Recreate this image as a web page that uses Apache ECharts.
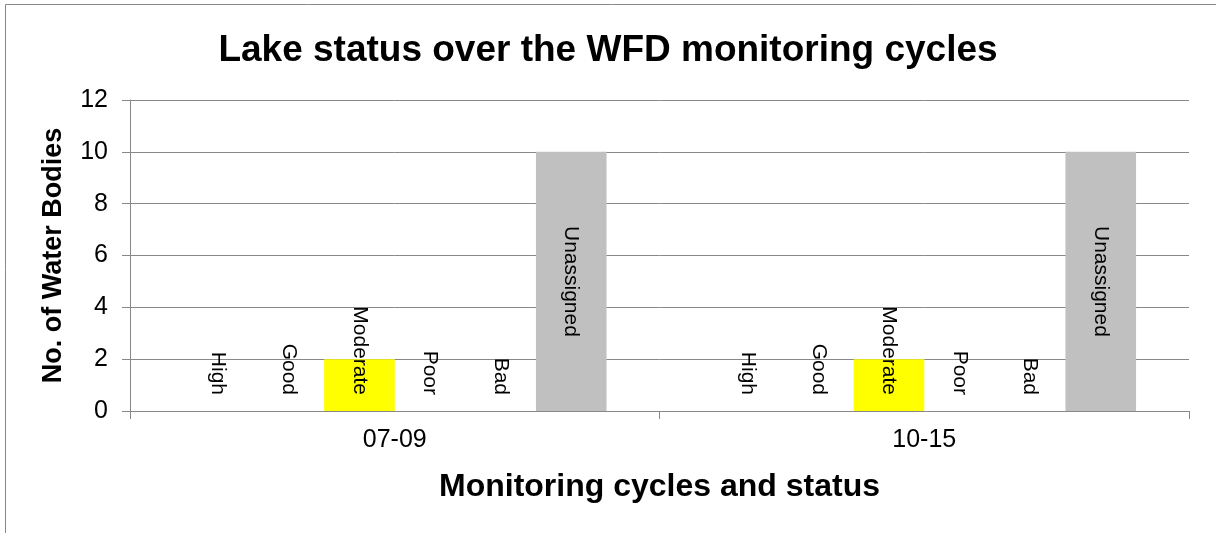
<!DOCTYPE html>
<html>
<head>
<meta charset="utf-8">
<script src="https://cdn.jsdelivr.net/npm/echarts@6/dist/echarts.min.js"></script>
<style>html,body{margin:0;padding:0;background:#fff;}#c{width:1216px;height:533px;}</style>
</head>
<body>
<div id="c"></div>
<script>
var categories = ['07-09', '10-15'];
var statusNames = ['High', 'Good', 'Moderate', 'Poor', 'Bad', 'Unassigned'];
var high = [0, 0];
var good = [0, 0];
var moderate = [2, 2];
var poor = [0, 0];
var bad = [0, 0];
var unassigned = [10, 10];
var yTicks = [0, 2, 4, 6, 8, 10, 12];

var seriesValues = [high, good, moderate, poor, bad, unassigned];
var seriesColors = ['#4F81BD', '#9BBB59', '#FFFF00', '#F79646', '#C0504D', '#C0C0C0'];
var FONT = '"Liberation Sans", Arial, sans-serif';

var series = statusNames.map(function (name, i) {
  var isBig = name === 'Unassigned';
  return {
    name: name,
    type: 'bar',
    data: seriesValues[i],
    barGap: '0%',
    barCategoryGap: '20%',
    itemStyle: { color: seriesColors[i] },
    label: isBig ? {
      show: true, formatter: '{a}', position: 'inside', rotate: -90,
      align: 'center', verticalAlign: 'middle',
      fontFamily: FONT, fontSize: 21, color: '#000'
    } : {
      show: true, formatter: '{a}', position: 'insideBottom', distance: 16, rotate: -90,
      align: 'right', verticalAlign: 'middle',
      fontFamily: FONT, fontSize: 21, color: '#000'
    }
  };
});

var chart = echarts.init(document.getElementById('c'), null, { renderer: 'canvas' });
chart.setOption({
  animation: false,
  backgroundColor: '#fff',
  title: {
    text: 'Lake status over the WFD monitoring cycles',
    left: 'center', top: 27,
    textStyle: { fontFamily: FONT, fontSize: 37, fontWeight: 'bold', color: '#000' }
  },
  graphic: [{
    type: 'rect', shape: { x: 5.5, y: 4.5, width: 1400, height: 700 },
    style: { fill: 'none', stroke: '#888', lineWidth: 1 }, silent: true
  }],
  grid: { left: 130, right: 27, top: 100, bottom: 122 },
  xAxis: {
    type: 'category', data: categories,
    name: 'Monitoring cycles and status', nameLocation: 'middle', nameGap: 60,
    nameTextStyle: { fontFamily: FONT, fontSize: 32, fontWeight: 'bold', color: '#000' },
    axisLine: { lineStyle: { color: '#888', width: 1 } },
    axisTick: { show: true, length: 8, lineStyle: { color: '#888' } },
    axisLabel: { fontFamily: FONT, fontSize: 25, color: '#000', margin: 17 }
  },
  yAxis: {
    type: 'value', min: yTicks[0], max: yTicks[yTicks.length - 1], interval: 2,
    name: 'No. of Water Bodies', nameLocation: 'middle', nameGap: 63,
    nameTextStyle: { fontFamily: FONT, fontSize: 27, fontWeight: 'bold', color: '#000' },
    axisLine: { show: true, lineStyle: { color: '#888', width: 1 } },
    axisTick: { show: true, length: 8, lineStyle: { color: '#888' } },
    splitLine: { show: true, lineStyle: { color: '#888', width: 1 } },
    axisLabel: { fontFamily: FONT, fontSize: 25, color: '#000', margin: 22 }
  },
  series: series
});
</script>
</body>
</html>
